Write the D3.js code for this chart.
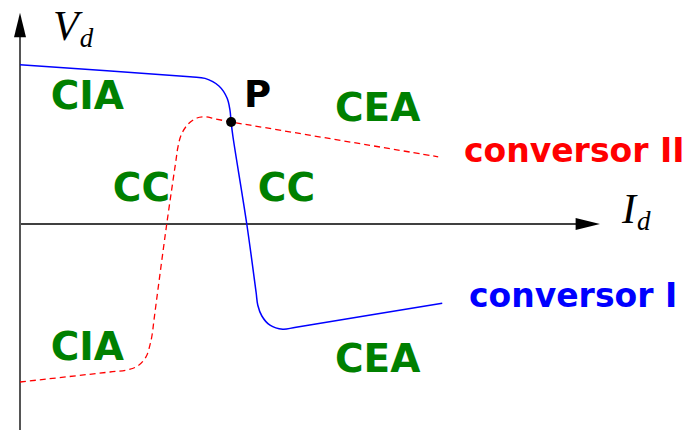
<!DOCTYPE html>
<html>
<head>
<meta charset="utf-8">
<script src="https://cdn.jsdelivr.net/npm/d3@7"></script>
<style>
  html, body { margin: 0; padding: 0; background: #fff; }
  svg { display: block; }
  .region { font-family: "DejaVu Sans", "Liberation Sans", sans-serif; font-weight: bold; fill: #008000; }
  .math { font-family: "Liberation Serif", "DejaVu Serif", serif; font-style: italic; fill: #000; }
</style>
</head>
<body>
<svg id="chart" width="688" height="430"></svg>
<script>
// Characteristic of converter I (Id, Vd)
const convIId = [0, 2.93, 3.19, 3.43, 3.57, 3.62, 3.64, 3.67, 3.91, 4.07, 4.10, 4.17, 4.31, 4.53, 4.76, 7.28];
const convIVd = [3.98, 3.68, 3.64, 3.45, 3.15, 2.85, 2.55, 2.20, 0, -1.70, -2.03, -2.30, -2.53, -2.63, -2.58, -1.98];

// Characteristic of converter II (Id, Vd)
const convIIId = [0, 1.55, 1.84, 2.03, 2.17, 2.24, 2.28, 2.31, 2.53, 2.69, 2.72, 2.78, 2.90, 3.05, 3.19, 3.36, 3.64, 3.97, 7.21];
const convIIVd = [-3.95, -3.70, -3.65, -3.55, -3.33, -3.03, -2.75, -2.40, 0, 1.60, 1.90, 2.23, 2.50, 2.65, 2.68, 2.63, 2.55, 2.47, 1.68];

// Operating point where both characteristics meet
const opPoint = { id: 3.64, vd: 2.55, label: "P" };

// Operating-mode labels
const regionText = ["CIA", "CEA", "CC", "CC", "CIA", "CEA"];
const regionId   = [0.53, 5.43, 1.60, 4.10, 0.53, 5.43];
const regionVd   = [2.88, 2.58, 0.58, 0.58, -3.40, -3.70];

const seriesNames = ["conversor I", "conversor II"];

const W = 688, H = 430;
const svg = d3.select("#chart");

const x = d3.scaleLinear().domain([0, 10]).range([20, 600]);
const y = d3.scaleLinear().domain([-5, 5]).range([424, 24]);

// Axes with arrow heads
const x0 = x(0), y0 = y(0);
svg.append("line")
  .attr("x1", x0).attr("x2", x(9.6)).attr("y1", y0).attr("y2", y0)
  .attr("stroke", "#000").attr("stroke-width", 1.4);
svg.append("path")
  .attr("d", `M${x(10)},${y0} L${x(9.58)},${y0 - 6} L${x(9.58)},${y0 + 6} Z`)
  .attr("fill", "#000");

svg.append("line")
  .attr("x1", x0).attr("x2", x0).attr("y1", H).attr("y2", y(4.7))
  .attr("stroke", "#555").attr("stroke-width", 2);
svg.append("path")
  .attr("d", `M${x0},${y(5.28)} L${x0 - 6},${y(4.67)} L${x0 + 6},${y(4.67)} Z`)
  .attr("fill", "#000");

// Axis titles
const vd = svg.append("text").attr("class", "math").attr("x", 53).attr("y", 40).attr("font-size", 42);
vd.append("tspan").text("V");
vd.append("tspan").attr("font-size", 27).attr("dy", 7).attr("dx", 1).text("d");

const idl = svg.append("text").attr("class", "math").attr("x", 622).attr("y", 223).attr("font-size", 42);
idl.append("tspan").text("I");
idl.append("tspan").attr("font-size", 27).attr("dy", 7).attr("dx", 1).text("d");

// Characteristic curves
const line = d3.line()
  .x(d => x(d[0]))
  .y(d => y(d[1]))
  .curve(d3.curveCatmullRom.alpha(0.5));

const convI = convIId.map((v, i) => [v, convIVd[i]]);
const convII = convIIId.map((v, i) => [v, convIIVd[i]]);

svg.append("path")
  .attr("d", line(convII))
  .attr("fill", "none")
  .attr("stroke", "#ff0000")
  .attr("stroke-width", 1.3)
  .attr("stroke-dasharray", "6,4");

svg.append("path")
  .attr("d", line(convI))
  .attr("fill", "none")
  .attr("stroke", "#0000ff")
  .attr("stroke-width", 1.5);

// Operating point
svg.append("circle")
  .attr("cx", x(opPoint.id)).attr("cy", y(opPoint.vd)).attr("r", 5)
  .attr("fill", "#000");
svg.append("text")
  .attr("class", "region")
  .attr("x", x(opPoint.id) + 13).attr("y", y(opPoint.vd) - 15)
  .attr("font-size", 37).style("fill", "#000")
  .text(opPoint.label);

// Region labels
svg.selectAll("text.mode")
  .data(regionText)
  .join("text")
  .attr("class", "region mode")
  .attr("x", (d, i) => x(regionId[i]))
  .attr("y", (d, i) => y(regionVd[i]))
  .attr("font-size", 39)
  .text(d => d);

// Series labels
svg.append("text")
  .attr("class", "region")
  .attr("x", 464).attr("y", 162)
  .attr("font-size", 33)
  .style("fill", "#ff0000")
  .text(seriesNames[1]);

svg.append("text")
  .attr("class", "region")
  .attr("x", 469).attr("y", 307)
  .attr("font-size", 33)
  .style("fill", "#0000ff")
  .text(seriesNames[0]);
</script>
</body>
</html>
